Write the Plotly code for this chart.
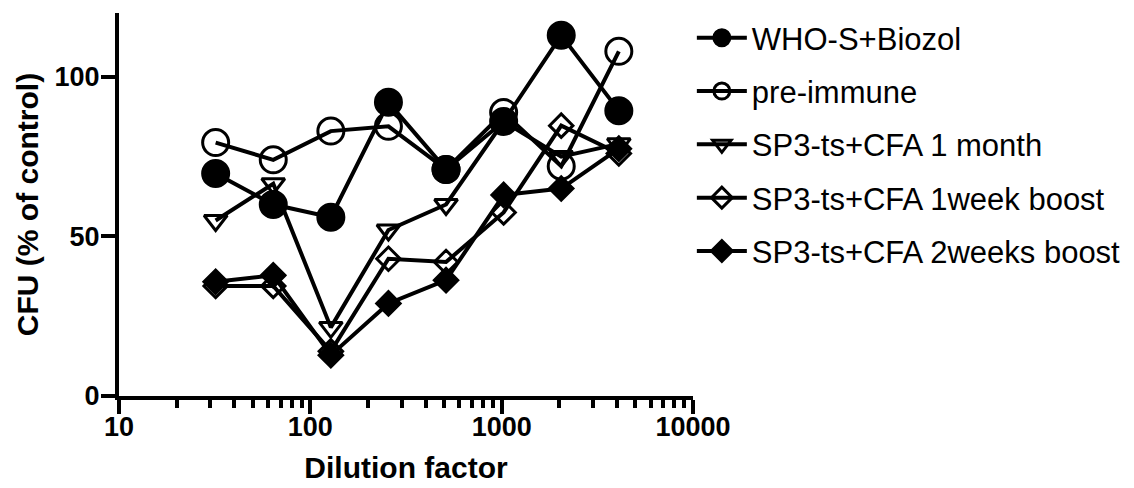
import plotly.graph_objects as go

dilution = [32, 64, 128, 256, 512, 1024, 2048, 4096]
series_names = ["WHO-S+Biozol", "pre-immune", "SP3-ts+CFA 1 month",
                "SP3-ts+CFA 1week boost", "SP3-ts+CFA 2weeks boost"]
who_s_biozol = [69.7, 60, 56, 92, 71, 86, 113, 89.4]
pre_immune = [79.4, 74, 83, 84.5, 71, 88.8, 72, 108]
sp3_1month = [55, 66.5, 21.5, 52, 60, 86, 75, 79]
sp3_1week = [34.5, 34.5, 14, 43, 42, 57.5, 84.7, 76]
sp3_2weeks = [35.8, 37.8, 12.8, 29, 36.3, 63, 65, 77.5]
x_ticks = [10, 100, 1000, 10000]
x_tick_text = ["10", "100", "1000", "10000"]
y_ticks = [0, 50, 100]

all_series = [who_s_biozol, pre_immune, sp3_1month, sp3_1week, sp3_2weeks]
symbols = ["circle", "circle-open", "triangle-down-open", "diamond-open", "diamond"]
sizes = [26, 26, 20, 18, 18]

FONT = "Liberation Sans, Arial, sans-serif"
fig = go.Figure()
for i, (name, vals) in enumerate(zip(series_names, all_series)):
    fig.add_trace(go.Scatter(
        x=dilution, y=vals, name=name, mode="lines+markers",
        legendgroup=f"g{i}",
        line=dict(color="black", width=4),
        marker=dict(symbol=symbols[i], size=sizes[i], color="black",
                    line=dict(color="black", width=3)),
    ))

# page body has an 8px margin, so the figure is 8px smaller than the window
fig.update_layout(
    width=1126, height=480,
    margin=dict(l=111, r=441, t=5, b=92, autoexpand=False),
    paper_bgcolor="white", plot_bgcolor="white",
    font=dict(family=FONT, color="black"),
    showlegend=True,
    legend=dict(x=0.998, xanchor="left", y=1.005, yanchor="top",
                font=dict(size=31, family=FONT, color="black"),
                tracegroupgap=10, itemsizing="trace", itemwidth=50,
                maxheight=460,
                bgcolor="rgba(0,0,0,0)"),
)
fig.update_xaxes(
    type="log", range=[1, 4], automargin=False,
    tickvals=x_ticks, ticktext=x_tick_text,
    showline=True, linecolor="black", linewidth=4,
    ticks="outside", ticklen=14, tickwidth=4, tickcolor="black",
    minor=dict(ticks="outside", ticklen=8, tickwidth=4, tickcolor="black", dtick="D1"),
    showgrid=False, zeroline=False, ticklabelstandoff=-10,
    tickfont=dict(size=27, family=FONT, color="black", weight="bold"),
    title=dict(text="<b>Dilution factor</b>", font=dict(size=30, family=FONT, color="black"), standoff=17),
)
fig.update_yaxes(
    range=[0, 120], automargin=False,
    tickvals=y_ticks,
    showline=True, linecolor="black", linewidth=4,
    ticks="outside", ticklen=14, tickwidth=4, tickcolor="black",
    showgrid=False, zeroline=False, ticklabelstandoff=-4,
    tickfont=dict(size=27, family=FONT, color="black", weight="bold"),
    title=dict(text="<b>CFU (% of control)</b>", font=dict(size=30, family=FONT, color="black"), standoff=8),
)
fig.write_html("out.html")
